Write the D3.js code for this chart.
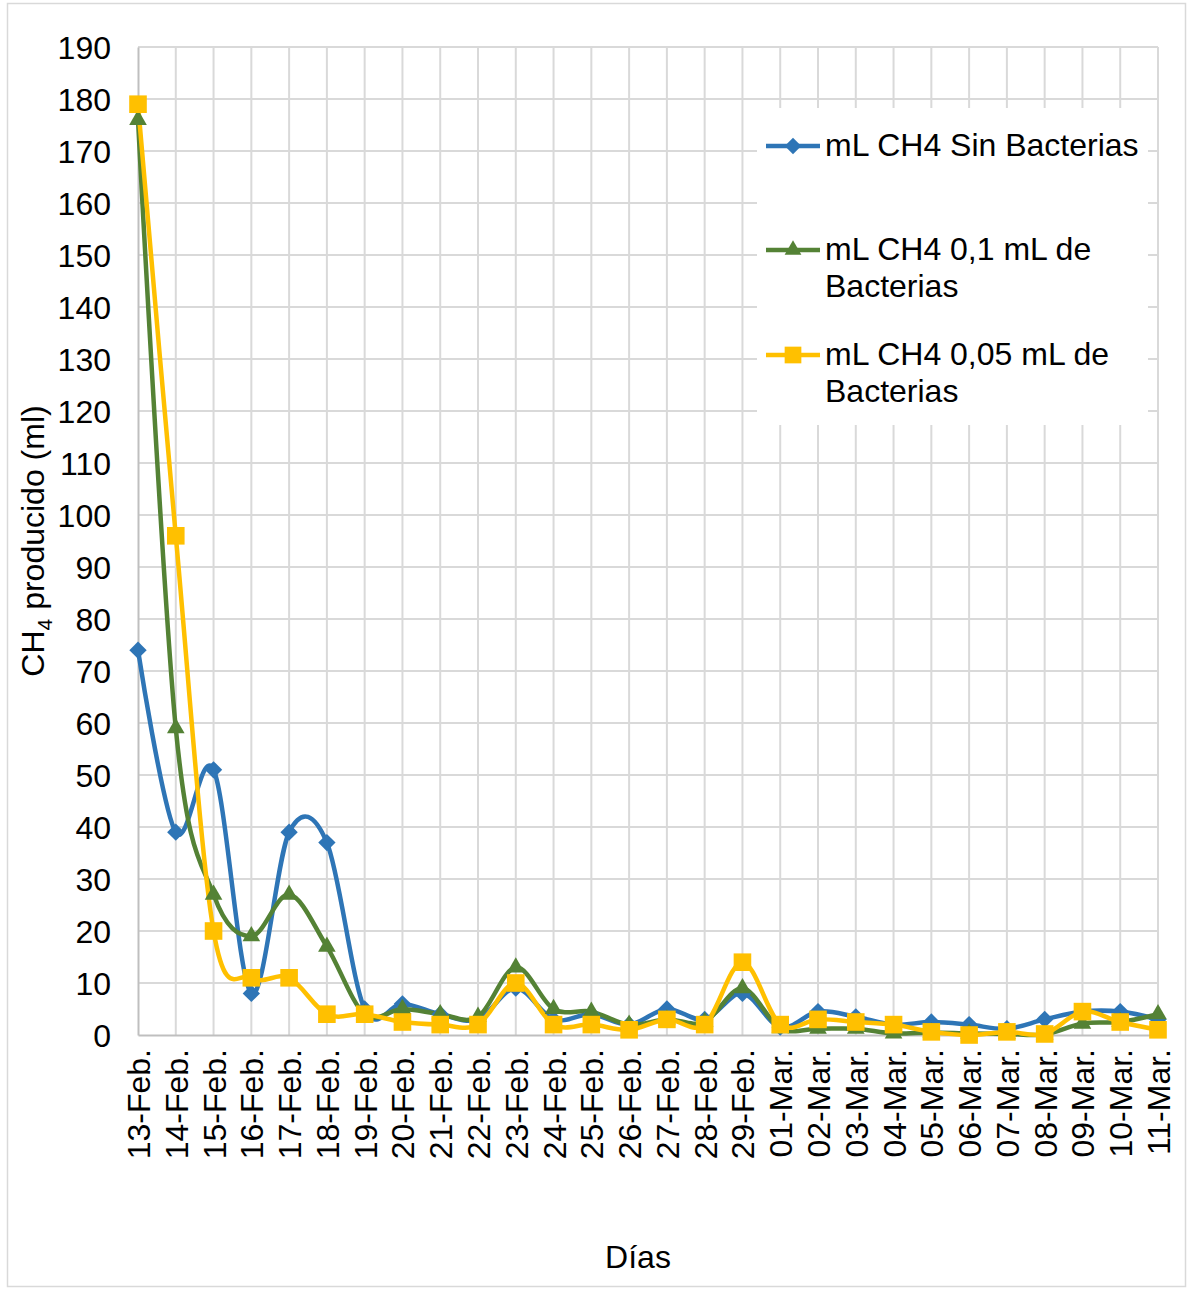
<!DOCTYPE html>
<html>
<head>
<meta charset="utf-8">
<script src="https://cdn.jsdelivr.net/npm/d3@7"></script>
<style>
  body { margin: 0; background: #fff; }
  text { font-family: "Liberation Sans", Arial, sans-serif; fill: #000; }
</style>
</head>
<body>
<div id="chart"></div>
<script>
// dias del ensayo
var dias = ["13-Feb.", "14-Feb.", "15-Feb.", "16-Feb.", "17-Feb.", "18-Feb.", "19-Feb.",
    "20-Feb.", "21-Feb.", "22-Feb.", "23-Feb.", "24-Feb.", "25-Feb.", "26-Feb.", "27-Feb.",
    "28-Feb.", "29-Feb.", "01-Mar.", "02-Mar.", "03-Mar.", "04-Mar.", "05-Mar.", "06-Mar.",
    "07-Mar.", "08-Mar.", "09-Mar.", "10-Mar.", "11-Mar."];

var sinBacterias = [74, 39, 51, 8, 39, 37, 5, 6, 4, 3, 9, 3, 4, 2, 5, 3, 8, 1.5, 4.5, 3.5, 2, 2.5, 2, 1.2, 3, 4.5, 4.5, 3];
var bact01 = [176, 59, 27, 19, 27, 17, 4, 5, 4, 3.5, 13, 5, 4.5, 2, 3, 2.5, 9, 1.3, 1.2, 1.2, 0.3, 0.5, 0.3, 0.2, 0.1, 2.2, 2.5, 4];
var bact005 = [179, 96, 20, 11, 11, 4, 4, 2.5, 2, 2, 10, 2, 2, 1, 3, 2, 14, 2, 3, 2.5, 2, 0.6, 0, 0.6, 0.2, 4.5, 2.5, 1];

var yTicks = d3.range(0, 191, 10);

// rombo cuadrado girado (el de d3 es demasiado estrecho)
var rombo = {
    draw: function(ctx, size) {
        var r = Math.sqrt(size / 2);
        ctx.moveTo(0, -r);
        ctx.lineTo(r, 0);
        ctx.lineTo(0, r);
        ctx.lineTo(-r, 0);
        ctx.closePath();
    }
};

var series = [
    { name: ["mL CH4 Sin Bacterias"], values: sinBacterias, color: "#2E75B6", symbol: rombo, size: 150, ly: 146 },
    { name: ["mL CH4 0,1 mL de", "Bacterias"], values: bact01, color: "#548235", symbol: d3.symbolTriangle, size: 135, ly: 250 },
    { name: ["mL CH4 0,05 mL de", "Bacterias"], values: bact005, color: "#FFC000", symbol: d3.symbolSquare, size: 310, ly: 355 }
];

var W = 1188, H = 1289;
var margin = { left: 138, right: 30, top: 47, bottom: 254 };

var svg = d3.select("#chart").append("svg")
    .attr("width", W)
    .attr("height", H);

svg.append("rect")
    .attr("x", 7.5).attr("y", 3.5)
    .attr("width", 1178).attr("height", 1283)
    .attr("fill", "#fff")
    .attr("stroke", "#D9D9D9")
    .attr("stroke-width", 1.5);

var x = d3.scalePoint()
    .domain(dias)
    .range([margin.left, W - margin.right]);

var y = d3.scaleLinear()
    .domain([0, 190])
    .range([H - margin.bottom, margin.top]);

// grid
svg.append("g")
    .selectAll("line.h")
    .data(yTicks.slice(1))
    .enter().append("line")
    .attr("x1", margin.left).attr("x2", W - margin.right)
    .attr("y1", function(d) { return y(d); })
    .attr("y2", function(d) { return y(d); })
    .attr("stroke", "#D9D9D9").attr("stroke-width", 2);

svg.append("g")
    .selectAll("line.v")
    .data(dias.slice(1))
    .enter().append("line")
    .attr("x1", function(d) { return x(d); })
    .attr("x2", function(d) { return x(d); })
    .attr("y1", y(0)).attr("y2", y(190))
    .attr("stroke", "#D9D9D9").attr("stroke-width", 2);

// axes
var yAxis = svg.append("g")
    .attr("transform", "translate(" + margin.left + ",0)")
    .call(d3.axisLeft(y).tickValues(yTicks).tickSize(0).tickPadding(27));
yAxis.select(".domain").attr("stroke", "#BFBFBF").attr("stroke-width", 2);
yAxis.selectAll("text").style("font-size", "32px").attr("dy", "0.36em");

var xAxis = svg.append("g")
    .attr("transform", "translate(0," + y(0) + ")")
    .call(d3.axisBottom(x).tickSize(0));
xAxis.select(".domain").attr("stroke", "#BFBFBF").attr("stroke-width", 2);
xAxis.selectAll("text")
    .style("font-size", "32px")
    .attr("text-anchor", "end")
    .attr("transform", "rotate(-90)")
    .attr("x", -14)
    .attr("y", 0)
    .attr("dy", "0.36em");

// lines
var line = d3.line()
    .x(function(d, i) { return x(dias[i]); })
    .y(function(d) { return y(d); })
    .curve(d3.curveCardinal.tension(0));

series.forEach(function(s) {
    svg.append("path")
        .datum(s.values)
        .attr("fill", "none")
        .attr("stroke", s.color)
        .attr("stroke-width", 4.5)
        .attr("stroke-linejoin", "round")
        .attr("d", line);
});

series.forEach(function(s) {
    svg.append("g")
        .selectAll("path")
        .data(s.values)
        .enter().append("path")
        .attr("transform", function(d, i) { return "translate(" + x(dias[i]) + "," + y(d) + ")"; })
        .attr("d", d3.symbol().type(s.symbol).size(s.size))
        .attr("fill", s.color);
});

// legend
var lg = svg.append("g");
lg.append("rect")
    .attr("x", 757).attr("y", 108)
    .attr("width", 391).attr("height", 317)
    .attr("fill", "#fff");

series.forEach(function(s) {
    lg.append("line")
        .attr("x1", 766).attr("x2", 820)
        .attr("y1", s.ly).attr("y2", s.ly)
        .attr("stroke", s.color).attr("stroke-width", 4.5);
    lg.append("path")
        .attr("transform", "translate(793," + s.ly + ")")
        .attr("d", d3.symbol().type(s.symbol).size(s.size * 0.9))
        .attr("fill", s.color);
    var t = lg.append("text")
        .attr("x", 825)
        .attr("y", s.ly + 10)
        .style("font-size", "32px");
    s.name.forEach(function(n, k) {
        t.append("tspan").attr("x", 825).attr("dy", k === 0 ? 0 : 37).text(n);
    });
});

// axis titles
var yt = svg.append("text")
    .attr("transform", "translate(44," + ((y(0) + y(190)) / 2) + ") rotate(-90)")
    .attr("text-anchor", "middle")
    .style("font-size", "32px");
yt.append("tspan").text("CH");
yt.append("tspan").text("4").style("font-size", "21px").attr("dy", 8);
yt.append("tspan").text(" producido (ml)").attr("dy", -8);

svg.append("text")
    .attr("x", 638).attr("y", 1268)
    .attr("text-anchor", "middle")
    .style("font-size", "32px")
    .text("Días");
</script>
</body>
</html>
